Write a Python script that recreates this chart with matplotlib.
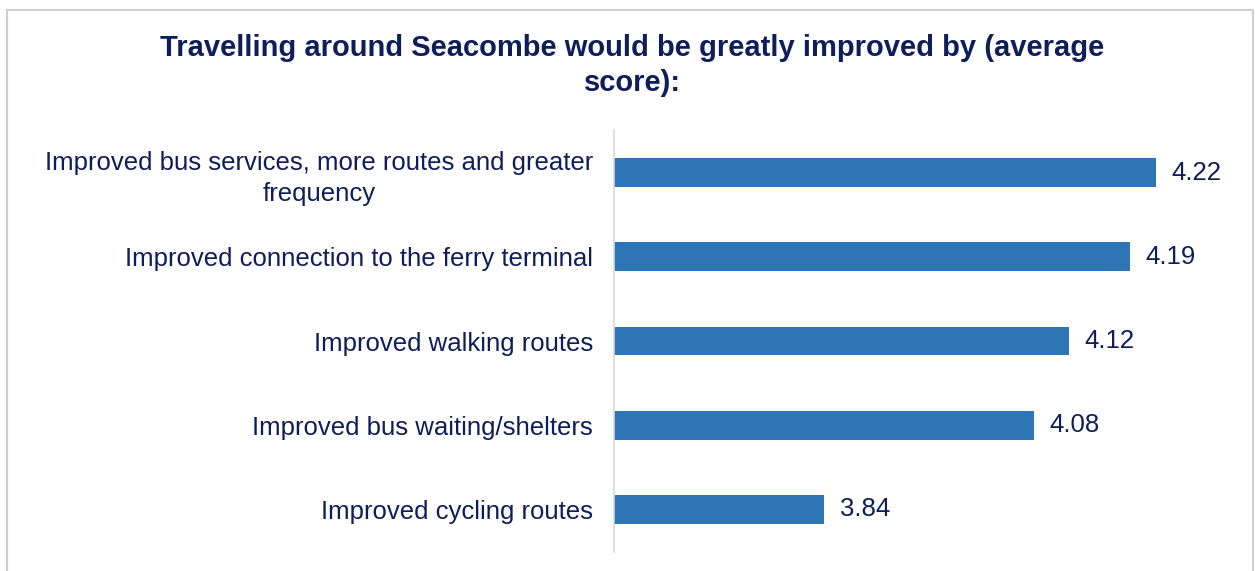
import matplotlib.pyplot as plt
from matplotlib.patches import Rectangle

plt.rcParams['font.family'] = ['Liberation Sans', 'DejaVu Sans']

categories = [
    'Improved bus services, more routes and greater\nfrequency',
    'Improved connection to the ferry terminal',
    'Improved walking routes',
    'Improved bus waiting/shelters',
    'Improved cycling routes',
]
scores = [4.22, 4.19, 4.12, 4.08, 3.84]
title = 'Travelling around Seacombe would be greatly improved by (average\nscore):'

navy = '#0E1E5B'
blue = '#2E75B6'

fig = plt.figure(figsize=(12.55, 5.71), dpi=100)
ax = fig.add_axes([614 / 1255, 1 - 551.6 / 571, (1226 - 614) / 1255, (551.6 - 130.4) / 571])

pos = list(range(len(categories)))
ax.barh(pos, [s - 3.6 for s in scores], left=3.6, height=0.344, color=blue)
ax.set_xlim(3.6, 4.3)
ax.set_ylim(4.5, -0.5)

for p, s in zip(pos, scores):
    ax.text(s + 0.018, p, f'{s:.2f}', va='center', ha='left', fontsize=18.5, color=navy)

ax.set_yticks(pos)
ax.set_yticklabels(categories, fontsize=18.5, color=navy, multialignment='center',
                   linespacing=1.35)
ax.tick_params(axis='y', length=0, pad=15)
ax.set_xticks([])
for side in ['top', 'right', 'bottom']:
    ax.spines[side].set_visible(False)
ax.spines['left'].set_color('#D9D9D9')
ax.spines['left'].set_linewidth(1.2)

fig.text(632 / 1255, 1 - 34 / 571, title, ha='center', va='top', fontsize=21,
         fontweight='bold', color=navy, linespacing=1.3)

fig.patches.append(Rectangle((7 / 1255, -0.05), (1253 - 7) / 1255, 1.05 - 10 / 571,
                             transform=fig.transFigure, fill=False,
                             edgecolor='#D0D0D0', linewidth=1.5))

fig.savefig('out.png', dpi=100)
